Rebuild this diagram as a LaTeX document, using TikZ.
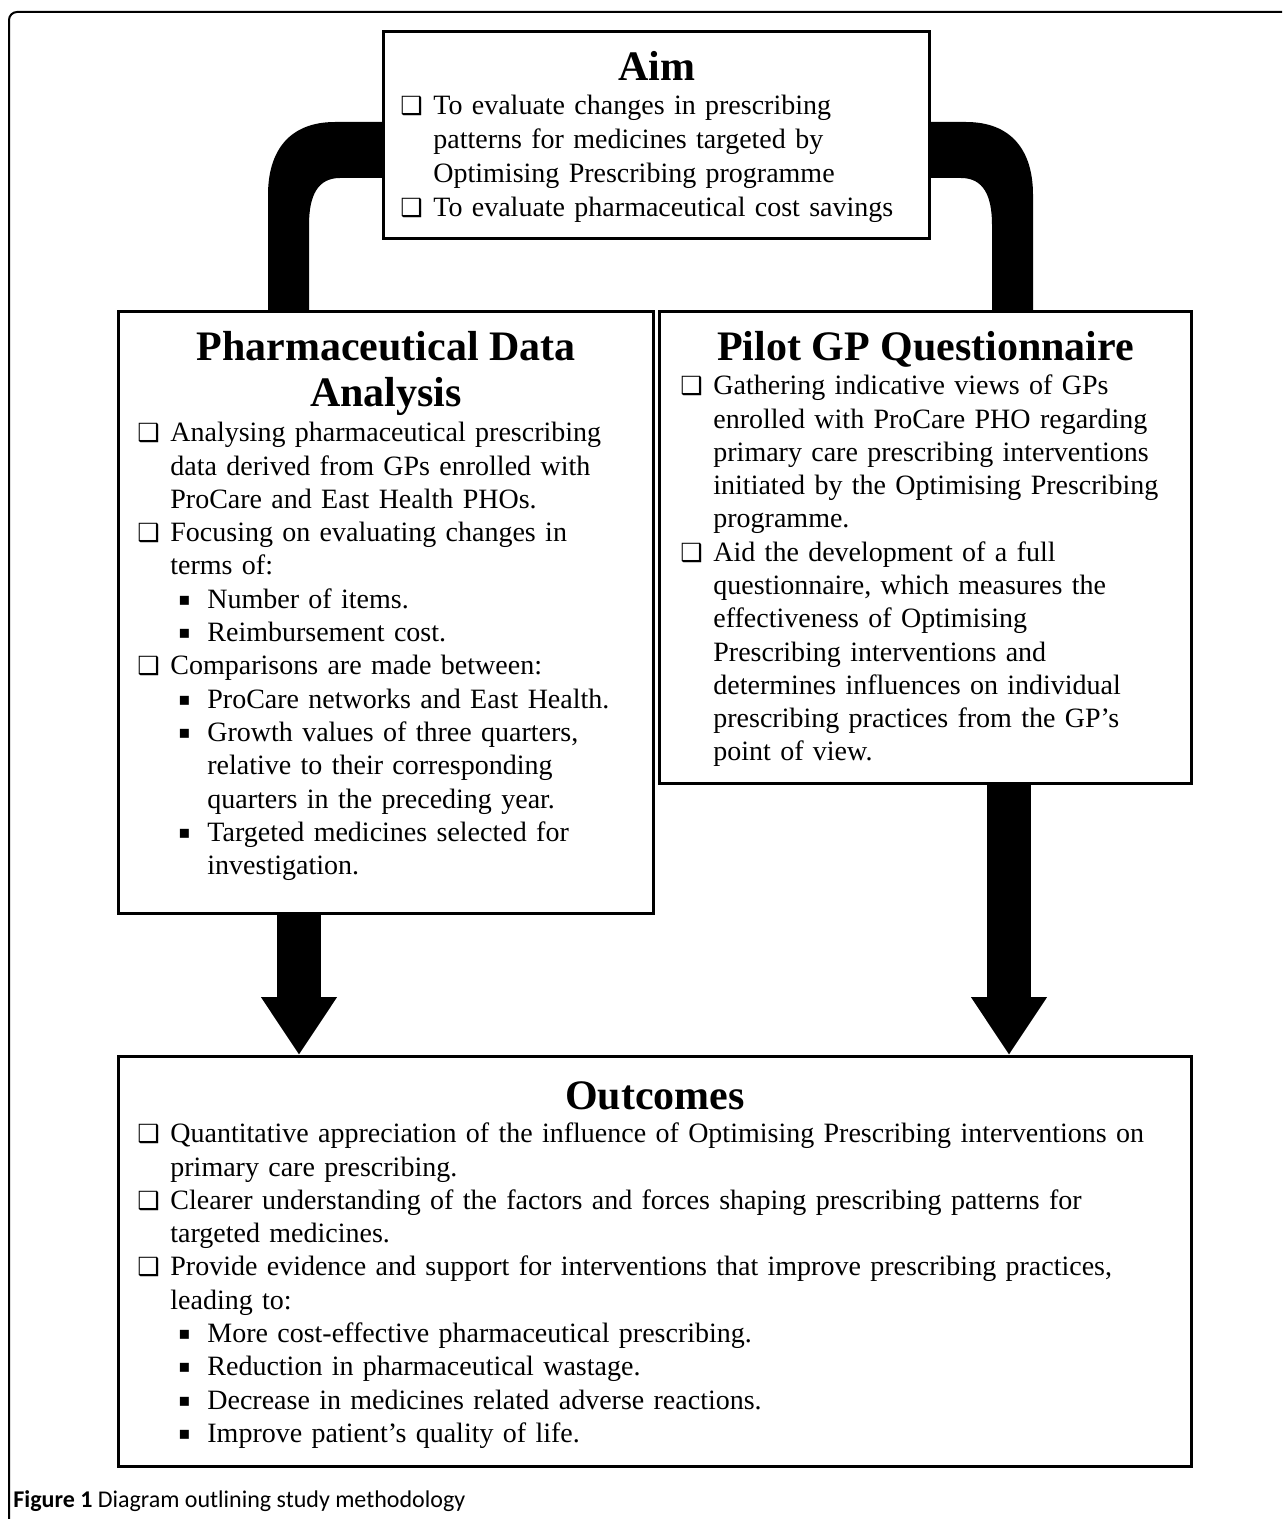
\documentclass[tikz,border=0pt]{standalone}
\usepackage{fontspec}
\setmainfont{Liberation Serif}
\newfontfamily\symfont{DejaVu Sans}
\newfontfamily\capfont{Carlito}
\usetikzlibrary{arrows.meta, positioning, calc, backgrounds}

\newcommand{\sqbox}{{\symfont\fontsize{12.5}{12.5}\selectfont ❑}}
\newcommand{\sqdot}{\raisebox{1.5pt}{\symfont\fontsize{9}{9}\selectfont ▪}}
\newcommand{\sqitem}{\par\hangindent=16.5pt\hangafter=1\noindent\makebox[16.5pt][l]{\rule{0pt}{11pt}\sqbox}}
\newcommand{\dotitem}{\par\hangindent=35pt\hangafter=1\noindent\hspace*{20.5pt}\makebox[14.5pt][l]{\rule{0pt}{11pt}\sqdot}}

\begin{document}
\begin{tikzpicture}[x=0.5pt, y=-0.5pt,
    mainbox/.style={rectangle, draw=black, line width=1.5pt, fill=white, inner sep=0pt, anchor=north west},
    boxtitle/.style={font=\fontsize{21}{23}\selectfont\bfseries, align=center, inner sep=0pt, anchor=north},
    boxbody/.style={font=\fontsize{14}{16.65}\selectfont, align=left, inner sep=0pt, anchor=north west},
    band/.style={fill=black},
    bigarrow/.style={draw=black, line width=22pt, -{Triangle[width=36pt, length=29pt]}}]

    \useasboundingbox (0,0) rectangle (1282,1519);
    \draw[line width=1pt, rounded corners=4pt] (9,1519) -- (9,12) -- (1282,12);

    % boxes
    \node[mainbox, minimum width=273pt, minimum height=103.5pt] (aim) at (382,30) {};
    \node[mainbox, minimum width=267.5pt, minimum height=301pt] (pda) at (117,310) {};
    \node[mainbox, minimum width=266pt, minimum height=236pt] (pgq) at (658,310) {};
    \node[mainbox, minimum width=536.5pt, minimum height=205pt] (out) at (117,1055) {};

    % titles
    \node[boxtitle] (aimtitle) at ($(aim.north)+(0,18)$) {\rule{0pt}{16pt}Aim};
    \node[boxtitle] (pdatitle) at ($(pda.north)+(0,18)$) {\rule{0pt}{16pt}Pharmaceutical Data\\Analysis};
    \node[boxtitle] (pgqtitle) at ($(pgq.north)+(0,18)$) {\rule{0pt}{16pt}Pilot GP Questionnaire};
    \node[boxtitle] (outtitle) at ($(out.north)+(0,22)$) {\rule{0pt}{16pt}Outcomes};

    % body texts
    \node[boxbody, text width=260pt, font=\fontsize{14}{17}\selectfont] (aimbody) at ($(aim.north west)+(18,50)$) {%
      \sqitem To evaluate changes in prescribing\newline patterns for medicines targeted by\newline Optimising Prescribing programme
      \sqitem To evaluate pharmaceutical cost savings\par};
    \node[boxbody, text width=255pt] (pdabody) at ($(pda.north west)+(20,98)$) {%
      \sqitem Analysing pharmaceutical prescribing\newline data derived from GPs enrolled with\newline ProCare and East Health PHOs.
      \sqitem Focusing on evaluating changes in\newline terms of:
      \dotitem Number of items.
      \dotitem Reimbursement cost.
      \sqitem Comparisons are made between:
      \dotitem ProCare networks and East Health.
      \dotitem Growth values of three quarters,\newline relative to their corresponding\newline quarters in the preceding year.
      \dotitem Targeted medicines selected for\newline investigation.\par};
    \node[boxbody, text width=250pt] (pgqbody) at ($(pgq.north west)+(22,51)$) {%
      \sqitem Gathering indicative views of GPs\newline enrolled with ProCare PHO regarding\newline primary care prescribing interventions\newline initiated by the Optimising Prescribing\newline programme.
      \sqitem Aid the development of a full\newline questionnaire, which measures the\newline effectiveness of Optimising\newline Prescribing interventions and\newline determines influences on individual\newline prescribing practices from the GP’s\newline point of view.\par};
    \node[boxbody, text width=525pt] (outbody) at ($(out.north west)+(20,54)$) {%
      \sqitem Quantitative appreciation of the influence of Optimising Prescribing interventions on\newline primary care prescribing.
      \sqitem Clearer understanding of the factors and forces shaping prescribing patterns for\newline targeted medicines.
      \sqitem Provide evidence and support for interventions that improve prescribing practices,\newline leading to:
      \dotitem More cost-effective pharmaceutical prescribing.
      \dotitem Reduction in pharmaceutical wastage.
      \dotitem Decrease in medicines related adverse reactions.
      \dotitem Improve patient’s quality of life.\par};

    \node[anchor=base west, inner sep=0pt, font=\capfont\fontsize{12}{14}\selectfont] (caption) at (13,1507)
      {\textbf{Figure 1} Diagram outlining study methodology};

    % connectors
    \begin{scope}[on background layer]
      \fill[band] ($(aim.north west)+(0,92)$) -- ($(aim.north west)+(-47,92)$)
        .. controls ($(aim.north west)+(-92,92)$) and ($(pda.north west)+(151,-160)$) .. ($(pda.north west)+(151,-115)$)
        -- ($(pda.north west)+(151,0)$) -- ($(pda.north west)+(192,0)$) -- ($(pda.north west)+(192,-85)$)
        .. controls ($(pda.north west)+(192,-115)$) and ($(aim.north west)+(-64,148)$) .. ($(aim.north west)+(-42,148)$)
        -- ($(aim.north west)+(0,148)$) -- cycle;
      \fill[band] ($(aim.north east)+(0,92)$) -- ($(aim.north east)+(35,92)$)
        .. controls ($(aim.north east)+(80,92)$) and ($(pgq.north east)+(-160,-160)$) .. ($(pgq.north east)+(-160,-115)$)
        -- ($(pgq.north east)+(-160,0)$) -- ($(pgq.north east)+(-201,0)$) -- ($(pgq.north east)+(-201,-85)$)
        .. controls ($(pgq.north east)+(-201,-115)$) and ($(aim.north east)+(52,148)$) .. ($(aim.north east)+(30,148)$)
        -- ($(aim.north east)+(0,148)$) -- cycle;
      \draw[bigarrow] ($(pda.south west)+(182,0)$) -- ($(out.north west)+(182,0)$);
      \draw[bigarrow] ($(pgq.south west)+(351,0)$) -- ($(out.north west)+(892,0)$);
    \end{scope}
\end{tikzpicture}
\end{document}
